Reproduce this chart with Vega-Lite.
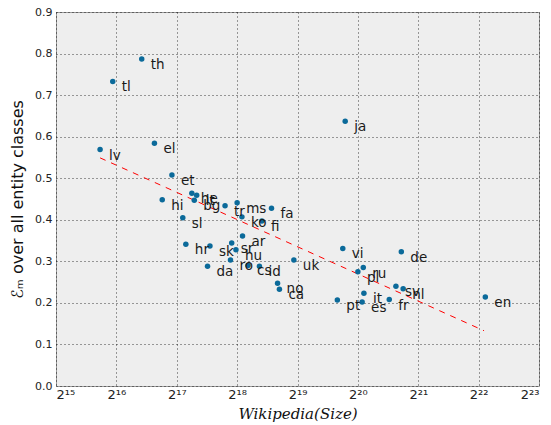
{
  "$schema": "https://vega.github.io/schema/vega-lite/v6.json",
  "width": 483,
  "height": 374,
  "autosize": "none",
  "padding": {"left": 56, "top": 12, "right": 12, "bottom": 39},
  "background": "white",
  "config": {
    "view": {"fill": "#eeeeee", "stroke": "#999999", "strokeWidth": 1},
    "font": "DejaVu Sans",
    "axis": {
      "grid": true,
      "gridColor": "#000000",
      "gridDash": [1, 3],
      "gridOpacity": 0.75,
      "gridWidth": 1,
      "ticks": false,
      "domain": false,
      "labelFont": "DejaVu Sans",
      "labelFontSize": 11,
      "labelColor": "#222222",
      "labelPadding": 4
    }
  },
  "datasets": {
    "points": [
      {"lang": "th", "size": 87690, "score": 0.787},
      {"lang": "tl", "size": 62860, "score": 0.733},
      {"lang": "lv", "size": 54360, "score": 0.569},
      {"lang": "el", "size": 101440, "score": 0.584},
      {"lang": "et", "size": 124000, "score": 0.508},
      {"lang": "hi", "size": 110960, "score": 0.448},
      {"lang": "he", "size": 155870, "score": 0.464},
      {"lang": "lt", "size": 164760, "score": 0.459},
      {"lang": "bg", "size": 160300, "score": 0.447},
      {"lang": "tr", "size": 228200, "score": 0.434},
      {"lang": "ms", "size": 262144, "score": 0.441},
      {"lang": "ko", "size": 277090, "score": 0.407},
      {"lang": "fa", "size": 389100, "score": 0.428},
      {"lang": "fi", "size": 348400, "score": 0.397},
      {"lang": "sl", "size": 140480, "score": 0.405},
      {"lang": "ar", "size": 278930, "score": 0.361},
      {"lang": "hr", "size": 145490, "score": 0.341},
      {"lang": "sk", "size": 191890, "score": 0.337},
      {"lang": "sr", "size": 246300, "score": 0.344},
      {"lang": "hu", "size": 258600, "score": 0.328},
      {"lang": "ro", "size": 242900, "score": 0.303},
      {"lang": "da", "size": 186650, "score": 0.288},
      {"lang": "cs", "size": 297000, "score": 0.290},
      {"lang": "id", "size": 338700, "score": 0.288},
      {"lang": "uk", "size": 502800, "score": 0.303},
      {"lang": "no", "size": 417100, "score": 0.247},
      {"lang": "ca", "size": 426000, "score": 0.233},
      {"lang": "vi", "size": 881800, "score": 0.331},
      {"lang": "ja", "size": 906500, "score": 0.637},
      {"lang": "de", "size": 1727000, "score": 0.323},
      {"lang": "ru", "size": 1115700, "score": 0.285},
      {"lang": "pl", "size": 1048576, "score": 0.275},
      {"lang": "sv", "size": 1623000, "score": 0.240},
      {"lang": "nl", "size": 1763600, "score": 0.234},
      {"lang": "it", "size": 1123800, "score": 0.223},
      {"lang": "pt", "size": 828400, "score": 0.207},
      {"lang": "es", "size": 1101000, "score": 0.202},
      {"lang": "fr", "size": 1503600, "score": 0.208},
      {"lang": "en", "size": 4530000, "score": 0.214}
    ],
    "fit": [
      {"size": 54360, "score": 0.549},
      {"size": 4463000, "score": 0.133}
    ]
  },
  "layer": [
    {
      "data": {"name": "fit"},
      "mark": {"type": "line", "color": "#ff0000", "strokeDash": [6, 6], "strokeWidth": 1},
      "encoding": {
        "x": {"field": "size", "type": "quantitative"},
        "y": {"field": "score", "type": "quantitative"}
      }
    },
    {
      "data": {"name": "points"},
      "mark": {"type": "circle", "size": 30, "color": "#0b6a9a", "opacity": 1},
      "encoding": {
        "x": {
          "field": "size",
          "type": "quantitative",
          "scale": {"type": "log", "base": 2, "domain": [32768, 8388608], "nice": false},
          "axis": {
            "values": [32768, 65536, 131072, 262144, 524288, 1048576, 2097152, 4194304, 8388608],
            "labelExpr": "round(log(datum.value)/LN2) == 15 ? '2¹⁵' : round(log(datum.value)/LN2) == 16 ? '2¹⁶' : round(log(datum.value)/LN2) == 17 ? '2¹⁷' : round(log(datum.value)/LN2) == 18 ? '2¹⁸' : round(log(datum.value)/LN2) == 19 ? '2¹⁹' : round(log(datum.value)/LN2) == 20 ? '2²⁰' : round(log(datum.value)/LN2) == 21 ? '2²¹' : round(log(datum.value)/LN2) == 22 ? '2²²' : '2²³'",
            "labelFontSize": 13,
            "labelPadding": 2,
            "title": "Wikipedia(Size)",
            "titleFont": "DejaVu Serif",
            "titleFontStyle": "italic",
            "titleFontWeight": "normal",
            "titleFontSize": 15,
            "titleColor": "#111111",
            "titlePadding": 5
          }
        },
        "y": {
          "field": "score",
          "type": "quantitative",
          "scale": {"domain": [0, 0.9], "nice": false},
          "axis": {
            "values": [0, 0.1, 0.2, 0.3, 0.4, 0.5, 0.6, 0.7, 0.8, 0.9],
            "format": ".1f",
            "title": "ℰₘ over all entity classes",
            "titleFont": "DejaVu Sans",
            "titleFontWeight": "normal",
            "titleFontSize": 16,
            "titleColor": "#111111",
            "titlePadding": 9
          }
        }
      }
    },
    {
      "data": {"name": "points"},
      "mark": {"type": "text", "align": "left", "baseline": "middle", "dx": 9, "dy": 6, "fontSize": 13.5, "color": "#1a1a1a", "font": "DejaVu Sans"},
      "encoding": {
        "x": {"field": "size", "type": "quantitative"},
        "y": {"field": "score", "type": "quantitative"},
        "text": {"field": "lang"}
      }
    }
  ]
}
